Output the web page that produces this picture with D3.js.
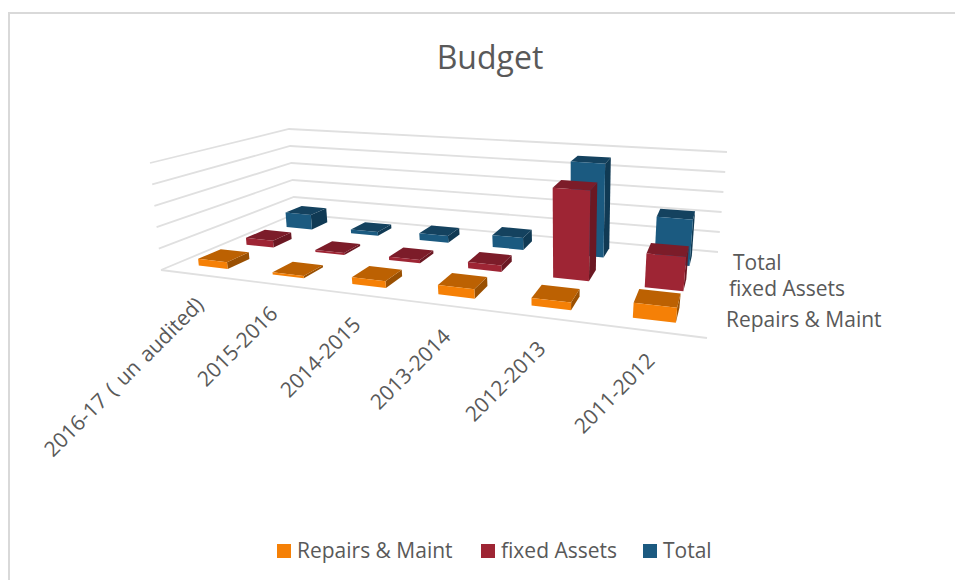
<!DOCTYPE html>
<html>
<head>
<meta charset="utf-8">
<script src="https://cdn.jsdelivr.net/npm/d3@7"></script>
<style>
html,body{margin:0;padding:0;background:#fff;overflow:hidden}
text{font-family:"Open Sans",sans-serif;fill:#595959}
</style>
</head>
<body>
<div id="chart"></div>
<script>
var categories = ["2016-17 ( un audited)","2015-2016","2014-2015","2013-2014","2012-2013","2011-2012"];
var seriesNames = ["Repairs & Maint","fixed Assets","Total"];
var repairs = [3.2,1,3,4,3.2,6];
var fixedAssets = [3.5,1,1.5,3,41,15];
var total = [8,2,3.5,6,46,22];
var gridTicks = [0,10,20,30,40,50];
var seriesValues = [repairs,fixedAssets,total];
var seriesColors = [
    {front:"#F58006",top:"#BC6102",side:"#9A5002"},
    {front:"#9E2534",top:"#7C1C29",side:"#6B1823"},
    {front:"#1B5A80",top:"#14425F",side:"#103A54"}
];

var width = 955, height = 580;
var svg = d3.select("#chart").append("svg")
    .attr("width",width)
    .attr("height",height);

// chart frame, runs off the picture on the right and bottom
svg.append("path")
    .attr("d","M9,580V13H955")
    .attr("fill","none")
    .attr("stroke","#d9d9d9")
    .attr("stroke-width",2);

// maps the unit square onto a quad (a=0,0 b=1,0 c=1,1 d=0,1)
function quadMap(a,b,c,d){
    var dx1=b[0]-c[0], dx2=d[0]-c[0], sx=a[0]-b[0]+c[0]-d[0];
    var dy1=b[1]-c[1], dy2=d[1]-c[1], sy=a[1]-b[1]+c[1]-d[1];
    var den=dx1*dy2-dx2*dy1;
    var g=(sx*dy2-dx2*sy)/den, h=(dx1*sy-sx*dy1)/den;
    return function(u,v){
        var w=g*u+h*v+1;
        return [
            (a[0]+(b[0]-a[0]+g*b[0])*u+(d[0]-a[0]+h*d[0])*v)/w,
            (a[1]+(b[1]-a[1]+g*b[1])*u+(d[1]-a[1]+h*d[1])*v)/w
        ];
    };
}
var floorMap = quadMap([161,270],[707,338],[718,252],[295,214]);
var roofMap = quadMap([150,163],[722,208],[727,152],[289,129]);

var catScale = d3.scaleBand().domain(categories).range([0,1.001]).paddingInner(0.6).paddingOuter(0.3);
var seriesScale = d3.scaleBand().domain(seriesNames).range([0,1]).paddingInner(0.55).paddingOuter(0.3);
var valueScale = d3.scaleLinear().domain([0,50]).range([0,1]);

function project(u,v,val){
    var f=floorMap(u,v), r=roofMap(u,v), t=valueScale(val);
    return [f[0]+(r[0]-f[0])*t, f[1]+(r[1]-f[1])*t];
}
var line = d3.line();

// walls and floor gridlines
var grid = svg.append("g").attr("fill","none").attr("stroke","#e0e0e0").attr("stroke-width",1.8);
gridTicks.forEach(function(t){
    grid.append("path").attr("d",line([project(0,0,t),project(0,1,t),project(1,1,t)]));
});
grid.append("path").attr("d",line([project(0,0,0),project(1,0,0)]));

// bars, back row first so the front rows cover them
d3.range(seriesNames.length-1,-1,-1).forEach(function(s){
    var g = svg.append("g").attr("class","series");
    var v0 = seriesScale(seriesNames[s]), v1 = v0+seriesScale.bandwidth();
    categories.forEach(function(c,i){
        var u0 = catScale(c), u1 = u0+catScale.bandwidth(), val = seriesValues[s][i];
        var faces = [
            {fill:seriesColors[s].side,pts:[project(u1,v0,0),project(u1,v1,0),project(u1,v1,val),project(u1,v0,val)]},
            {fill:seriesColors[s].top,pts:[project(u0,v0,val),project(u1,v0,val),project(u1,v1,val),project(u0,v1,val)]},
            {fill:seriesColors[s].front,pts:[project(u0,v0,0),project(u1,v0,0),project(u1,v0,val),project(u0,v0,val)]}
        ];
        g.selectAll(null).data(faces).enter().append("path")
            .attr("d",function(d){return line(d.pts)+"Z";})
            .attr("fill",function(d){return d.fill;});
    });
});

// category labels
var labelAnchors = [[205,306],[279,315],[362,326],[452,338],[547,350],[656,362]];
svg.append("g").selectAll("text").data(categories).enter().append("text")
    .attr("text-anchor","end")
    .attr("font-size",21)
    .attr("word-spacing",2.3)
    .attr("transform",function(d,i){return "translate("+labelAnchors[i]+") rotate(-45)";})
    .text(function(d){return d;});

// series labels on the depth axis, Total sits at the back
var depthLabels = [[726,327],[729,296],[733,270]];
svg.append("g").selectAll("text").data(seriesNames).enter().append("text")
    .attr("font-size",21)
    .attr("x",function(d,i){return depthLabels[i][0];})
    .attr("y",function(d,i){return depthLabels[i][1];})
    .text(function(d){return d;});

svg.append("text")
    .attr("x",490).attr("y",69)
    .attr("text-anchor","middle")
    .attr("font-size",32)
    .text("Budget");

// legend
var legendX = [277,481,643];
var legend = svg.append("g").selectAll("g").data(seriesNames).enter().append("g")
    .attr("transform",function(d,i){return "translate("+legendX[i]+",544)";});
legend.append("rect").attr("width",14).attr("height",14)
    .attr("fill",function(d,i){return seriesColors[i].front;});
legend.append("text").attr("x",20).attr("y",14).attr("font-size",21)
    .text(function(d){return d;});
</script>
</body>
</html>
